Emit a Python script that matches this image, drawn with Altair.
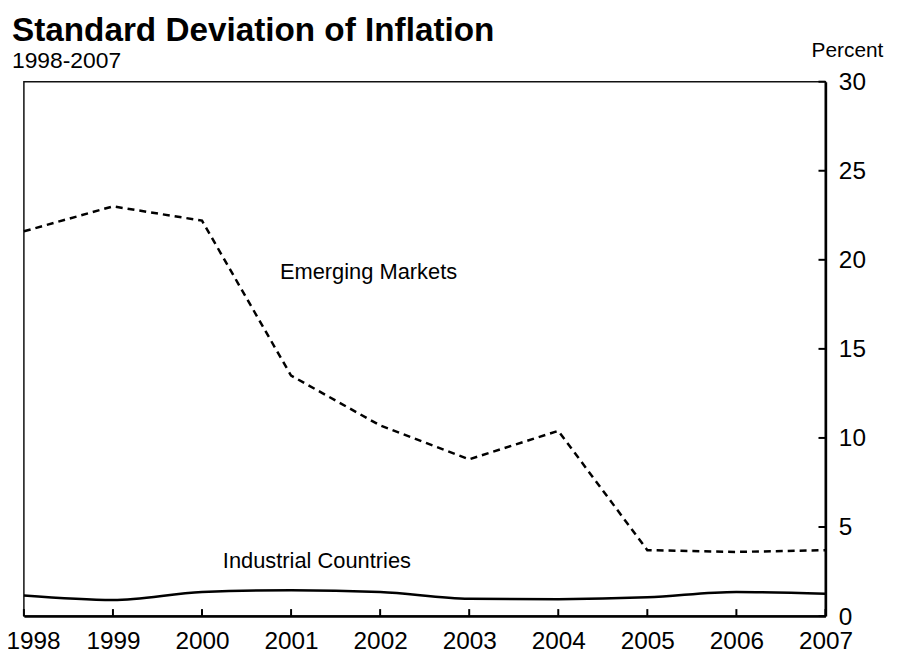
import altair as alt
import pandas as pd

# ---- data ----
years = [1998, 1999, 2000, 2001, 2002, 2003, 2004, 2005, 2006, 2007]
emerging = [21.6, 23.0, 22.2, 13.5, 10.7, 8.8, 10.4, 3.7, 3.6, 3.7]
industrial = [1.15, 0.9, 1.35, 1.45, 1.35, 0.97, 0.95, 1.05, 1.35, 1.25]
y_ticks = [0, 5, 10, 15, 20, 25, 30]

series_labels = ["Emerging Markets", "Industrial Countries"]
label_year = [2001.87, 2001.29]
label_value = [19.3, 3.1]

title_text = "Standard Deviation of Inflation"
subtitle_text = "1998-2007"
unit_text = "Percent"

FONT = "Liberation Sans"
W, H = 807, 538

df = pd.DataFrame({"year": years, "em": emerging, "ind": industrial})
df_yt = pd.DataFrame({"v": y_ticks})
df_lab = pd.DataFrame({"label": series_labels, "year": label_year, "value": label_value})

xs = alt.Scale(domain=[1998, 2007], nice=False, zero=False)
ys = alt.Scale(domain=[0, 30], nice=False, zero=True)

x_axis = alt.Axis(values=years, format="d", ticks=False, domain=True,
                  domainColor="black", domainWidth=2.5, grid=False, title=None,
                  labelFont=FONT, labelFontSize=24.5, labelColor="black",
                  labelPadding=14, labelFlush=False, labelOverlap=False,
                  labelAlign={"expr": "datum.value == 1998 ? 'left' : 'center'"},
                  labelOffset={"expr": "datum.value == 1998 ? -18 : 0"})
y_axis = alt.Axis(orient="right", values=y_ticks, ticks=False, domain=True,
                  domainColor="black", domainWidth=2.5, grid=False, title=None,
                  labelFont=FONT, labelFontSize=24.5, labelColor="black",
                  labelPadding=13, labelBaseline="middle", labelOffset=1,
                  labelFlush=False, labelOverlap=False)

X = lambda f: alt.X(f, scale=xs, axis=x_axis)
Y = lambda f: alt.Y(f, scale=ys, axis=y_axis)

em = alt.Chart(df).mark_line(color="black", strokeWidth=2.5, strokeDash=[7, 5]).encode(
    x=X("year:Q"), y=Y("em:Q"),
)
ind = alt.Chart(df).mark_line(color="black", strokeWidth=2.5, interpolate="monotone").encode(
    x=X("year:Q"), y=Y("ind:Q"),
)

xticks = alt.Chart(df).mark_rule(color="black", strokeWidth=2).encode(
    x=X("year:Q"), y=alt.value(H - 7), y2=alt.value(H),
)
yticks = alt.Chart(df_yt).mark_rule(color="black", strokeWidth=2).encode(
    y=Y("v:Q"), x=alt.value(W - 7), x2=alt.value(W),
)

labels = alt.Chart(df_lab).mark_text(font=FONT, fontSize=22, color="black", align="center",
                                     baseline="middle").encode(
    x=X("year:Q"), y=Y("value:Q"), text="label:N",
)

title = alt.Chart(pd.DataFrame({"t": [title_text]})).mark_text(
    font=FONT, fontSize=33.5, fontWeight="bold", color="black", align="left", baseline="alphabetic"
).encode(x=alt.value(-12), y=alt.value(-41), text="t:N")
subtitle = alt.Chart(pd.DataFrame({"t": [subtitle_text]})).mark_text(
    font=FONT, fontSize=23, color="black", align="left", baseline="alphabetic"
).encode(x=alt.value(-12), y=alt.value(-14), text="t:N")
unit = alt.Chart(pd.DataFrame({"t": [unit_text]})).mark_text(
    font=FONT, fontSize=21, color="black", align="left", baseline="alphabetic"
).encode(x=alt.value(W - 14), y=alt.value(-25), text="t:N")

chart = alt.layer(em, ind, xticks, yticks, labels, title, subtitle, unit).properties(
    width=W, height=H,
    background="white",
    autosize=alt.AutoSizeParams(type="none"),
    padding={"left": 16, "top": 72, "right": 66, "bottom": 35},
).configure_view(stroke="#111111", strokeWidth=1.5)

chart.save("out.html", embed_options={"renderer": "svg", "actions": False})
